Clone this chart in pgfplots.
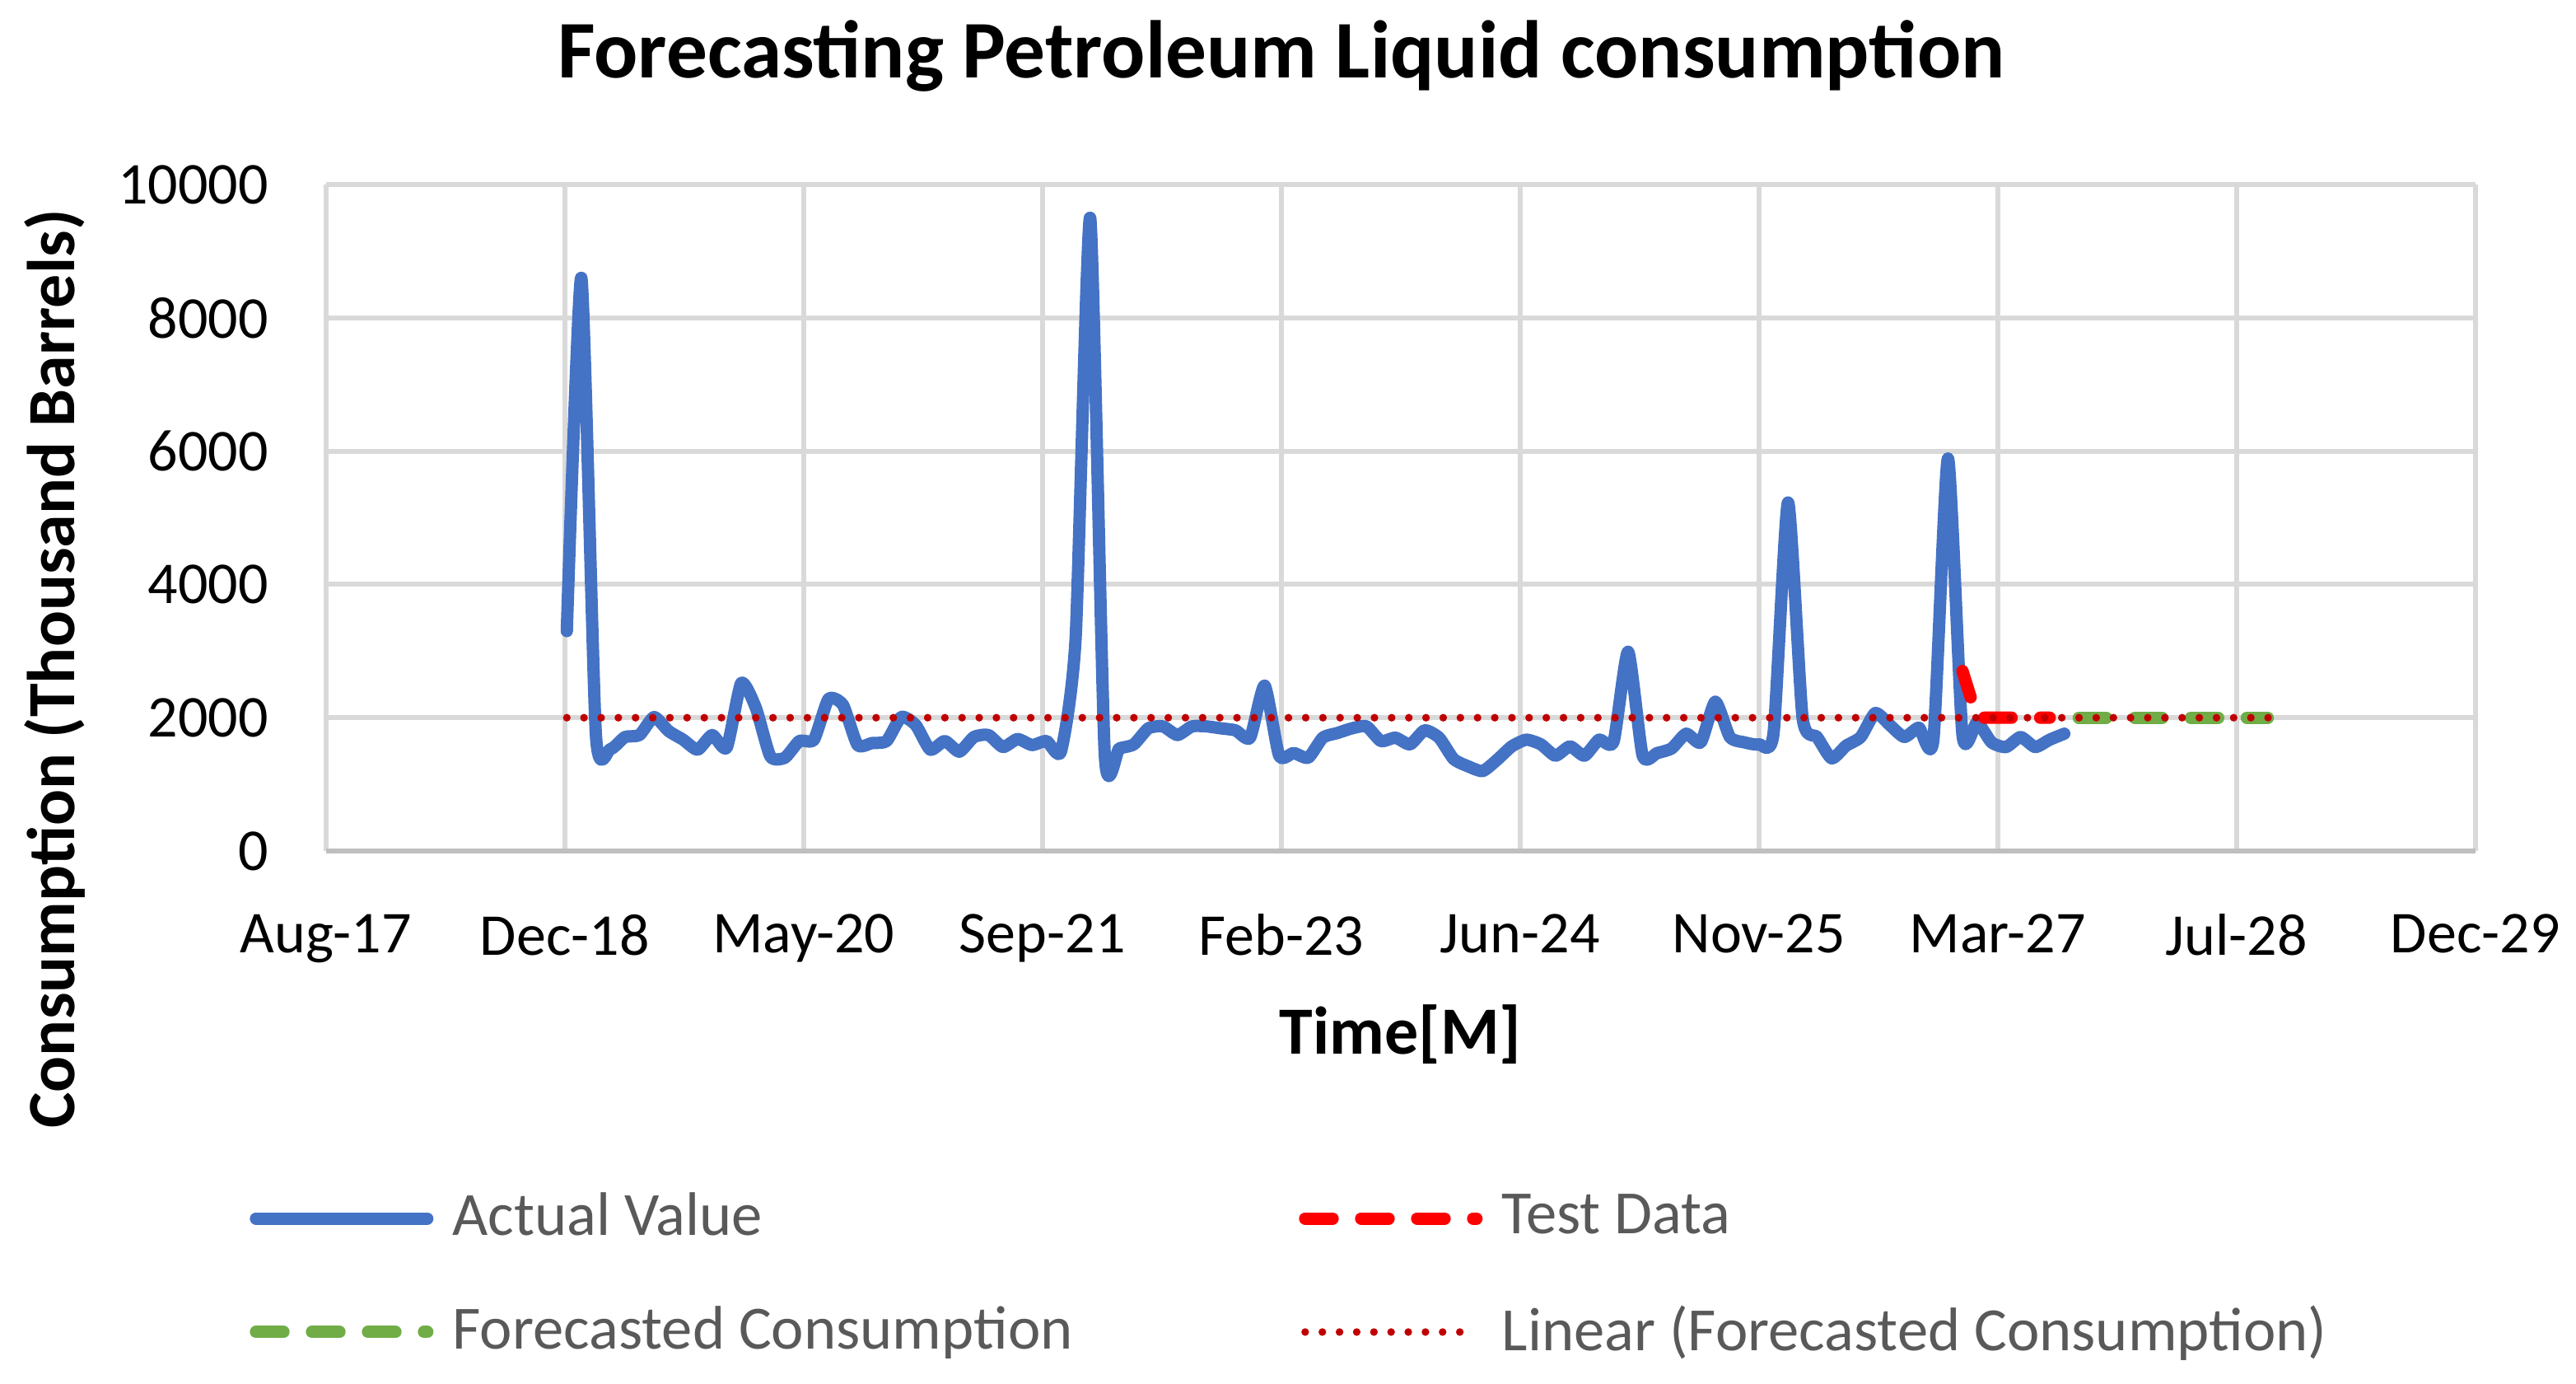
\documentclass[border=0pt]{standalone}
\usepackage{pgfplots}
\pgfplotsset{compat=1.18}
\usepackage{pgfplotstable}
\usepackage{fontspec}
\setmainfont{Carlito}
\definecolor{cblue}{HTML}{4472C4}
\definecolor{cred}{HTML}{FF0000}
\definecolor{cgreen}{HTML}{70AD47}
\definecolor{ctrend}{HTML}{C00000}
\definecolor{cgrid}{HTML}{D9D9D9}
\definecolor{caxis}{HTML}{BFBFBF}
\definecolor{clegend}{HTML}{595959}

\pgfplotstableread{
m v
0 3300
1 8600
2 1750
3 1530
4 1710
5 1740
6 2010
7 1800
8 1670
9 1520
10 1740
11 1550
12 2520
13 2150
14 1420
15 1400
16 1650
17 1670
18 2280
19 2190
20 1590
21 1620
22 1650
23 2010
24 1890
25 1520
26 1650
27 1490
28 1710
29 1740
30 1560
31 1680
32 1590
33 1650
34 1500
35 3200
36 9500
37 1460
38 1540
39 1600
40 1840
41 1870
42 1740
43 1870
44 1870
45 1840
46 1810
47 1700
48 2480
49 1430
50 1470
51 1400
52 1700
53 1770
54 1840
55 1870
56 1650
57 1700
58 1600
59 1810
60 1700
61 1380
62 1270
63 1200
64 1370
65 1570
66 1670
67 1600
68 1430
69 1570
70 1430
71 1670
72 1640
73 2990
74 1430
75 1470
76 1540
77 1760
78 1630
79 2240
80 1710
81 1630
82 1600
83 1760
84 5230
85 2000
86 1710
87 1390
88 1580
89 1710
90 2070
91 1890
92 1710
93 1850
94 1670
95 5890
96 1740
97 1930
98 1630
99 1560
100 1710
101 1560
102 1670
103 1760
}\actual

\pgfplotstableread{
m v
96 2700
97 2000
98 2000
99 2000
100 2000
101 2000
102 2000
}\testdata

\pgfplotstableread{
m v
104 2000
105 2000
106 2000
107 2000
108 2000
109 2000
110 2000
111 2000
112 2000
113 2000
114 2000
115 2000
116 2000
117 2000
}\forecast

\pgfplotstableread{
m v
0 2000
117.8 2000
}\trend

\begin{document}
\begin{tikzpicture}
\useasboundingbox (0,0) rectangle (469.2pt,252pt);
\begin{axis}[
  at={(59.36pt,97.05pt)}, anchor=south west,
  scale only axis, width=391.5pt, height=121.35pt,
  xmin=-16.57, xmax=131.274, ymin=0, ymax=10000,
  xtick={-16.57,-0.143,16.284,32.711,49.138,65.566,81.993,98.420,114.847,131.274},
  xticklabels={Aug-17,Dec-18,May-20,Sep-21,Feb-23,Jun-24,Nov-25,Mar-27,Jul-28,Dec-29},
  ytick={0,2000,4000,6000,8000,10000},
  scaled y ticks=false,
  grid=major, grid style={draw=cgrid, line width=0.9pt},
  axis x line*=bottom, axis y line*=left,
  x axis line style={draw=caxis, line width=0.9pt, -},
  y axis line style={draw=none},
  major tick length=0pt,
  tick style={draw=none},
  ticklabel style={font=\fontsize{10.8}{13}\selectfont, text=black},
  /pgf/number format/assume math mode=true,
  /pgf/number format/1000 sep={},
  yticklabel style={xshift=-7pt},
  xticklabel style={yshift=-8pt},
  title={Forecasting Petroleum Liquid consumption},
  title style={font=\bfseries\fontsize{14.9}{18}\selectfont, at={(axis description cs:0.4445,1.1437)}, anchor=center},
  xlabel={Time[M]},
  xlabel style={font=\bfseries\fontsize{12.3}{15}\selectfont, at={(axis description cs:0.5,-0.2757)}, anchor=center},
  ylabel={Consumption (Thousand Barrels)},
  ylabel style={font=\bfseries\fontsize{12.3}{15}\selectfont, at={(axis description cs:-0.1263,0.273)}, anchor=center},
  legend columns=2,
  legend cell align=left,
  legend style={draw=none, fill=none, font=\fontsize{11.2}{13}\selectfont, text=clegend,
    at={(axis description cs:-0.0359,-0.495)}, anchor=north west,
    /tikz/every even column/.append style={column sep=39.2pt},
    row sep=7.2pt, inner sep=0pt},
  legend image code/.code={\draw[#1] (0pt,0pt) -- (31.2pt,0pt); \path (32.7pt,0pt);},
]
\addplot[cblue, line width=2.25pt, smooth, tension=0.36, line join=round, line cap=round] table[x=m,y=v] {\actual};
\addlegendentry{Actual Value}
\addplot[cred, line width=2.25pt, line cap=round, dash pattern=on 5pt off 5.2pt] table[x=m,y=v] {\testdata};
\addlegendentry{Test Data}
\addplot[cgreen, line width=2.25pt, line cap=round, dash pattern=on 5pt off 5.2pt] table[x=m,y=v] {\forecast};
\addlegendentry{Forecasted Consumption}
\addplot[ctrend, line width=1.4pt, line cap=round, dash pattern=on 0pt off 3.13pt] table[x=m,y=v] {\trend};
\addlegendentry{Linear (Forecasted Consumption)}
\end{axis}
\end{tikzpicture}
\end{document}
